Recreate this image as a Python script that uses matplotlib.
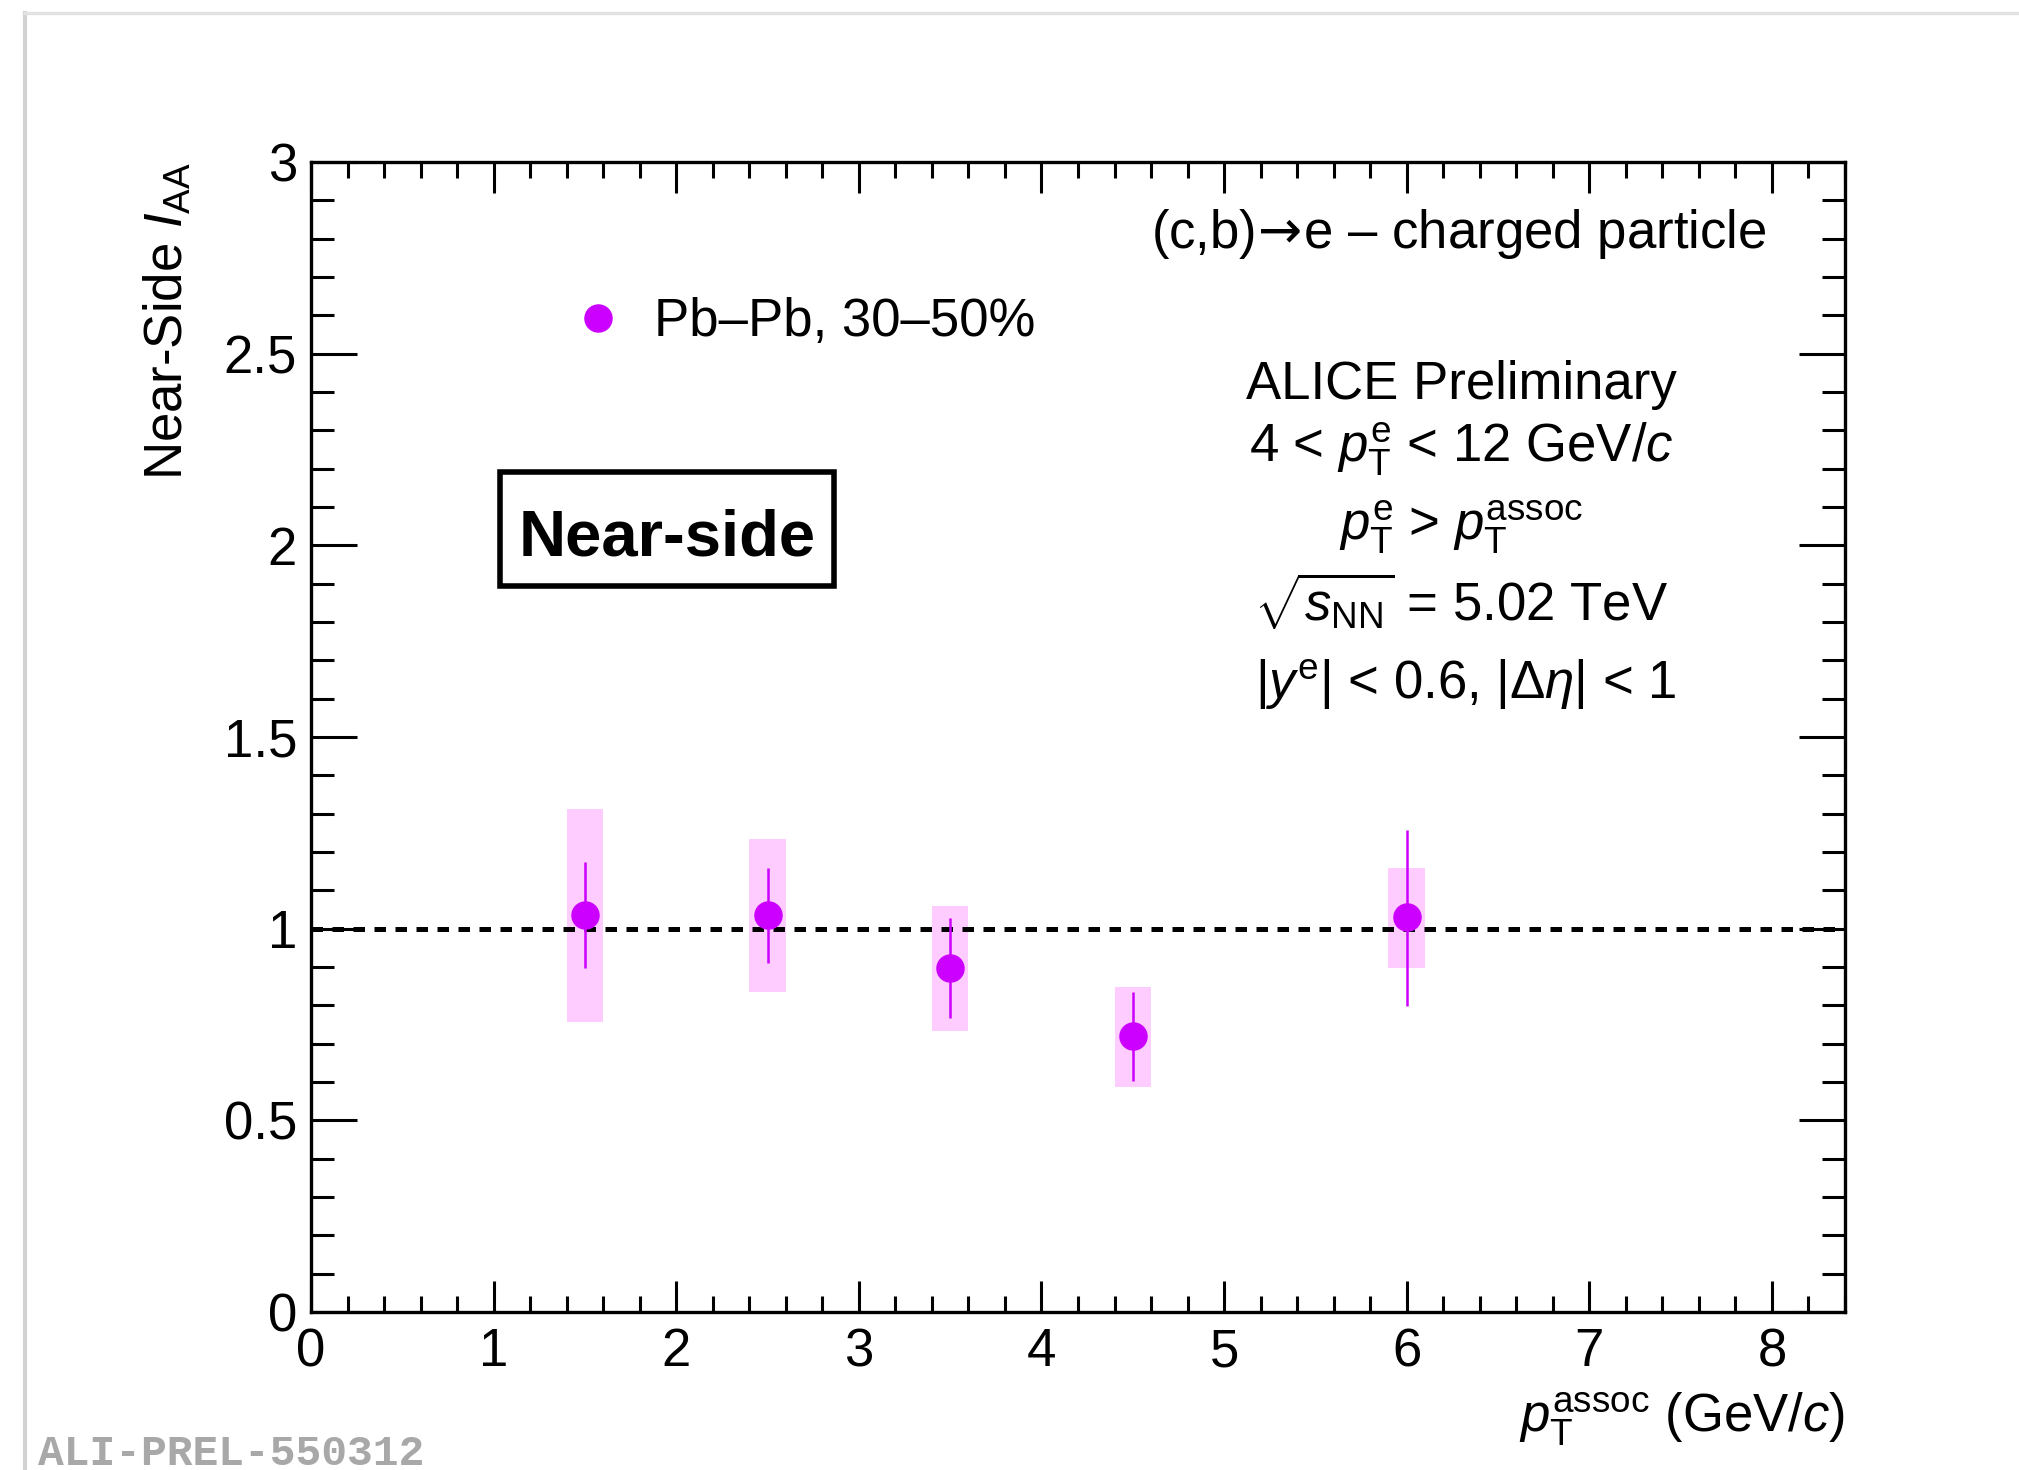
import matplotlib
matplotlib.use("Agg")
import matplotlib.pyplot as plt
from matplotlib.ticker import MultipleLocator, FuncFormatter
from matplotlib.patches import Rectangle
from matplotlib.lines import Line2D
import numpy as np

# ---- data: near-side I_AA vs associated-particle pT, Pb-Pb 30-50% ----
pt_assoc = np.array([1.5, 2.5, 3.5, 4.5, 6.0])
iaa = np.array([1.036, 1.036, 0.898, 0.720, 1.030])
stat_low = np.array([0.897, 0.910, 0.766, 0.603, 0.799])
stat_high = np.array([1.175, 1.158, 1.028, 0.835, 1.258])
syst_low = np.array([0.757, 0.835, 0.734, 0.588, 0.897])
syst_high = np.array([1.312, 1.234, 1.059, 0.848, 1.159])
syst_box_width = 0.2

x_ticks = [0, 1, 2, 3, 4, 5, 6, 7, 8]
y_ticks = [0, 0.5, 1, 1.5, 2, 2.5, 3]

# ---- style ----
plt.rcParams["font.family"] = ["Liberation Sans", "DejaVu Sans"]
plt.rcParams["mathtext.fontset"] = "custom"
plt.rcParams["mathtext.rm"] = "Liberation Sans"
plt.rcParams["mathtext.it"] = "Liberation Sans:italic"
plt.rcParams["mathtext.bf"] = "Liberation Sans:bold"
plt.rcParams["mathtext.sf"] = "DejaVu Sans"

W, H = 2019, 1470
FS = 38
marker_color = "#CC00FF"
box_color = "#FFCCFF"

fig = plt.figure(figsize=(W / 100, H / 100), dpi=100)
fig.patch.set_facecolor("white")


def fx(px):
    return px / W


def fy(py):
    return 1 - py / H


# page edge shading
fig.add_artist(Line2D([fx(25), fx(25)], [fy(13), 0], color="#D2D2D2", lw=3))
fig.add_artist(Line2D([fx(25), 1], [fy(13), fy(13)], color="#E2E2E2", lw=2.5))

ax_l, ax_r, ax_t, ax_b = 311, 1845, 162, 1312
ax = fig.add_axes([fx(ax_l), fy(ax_b), (ax_r - ax_l) / W, (ax_b - ax_t) / H])

# systematic uncertainty boxes
ax.bar(pt_assoc, syst_high - syst_low, bottom=syst_low, width=syst_box_width,
       color=box_color, edgecolor="none", zorder=1)

# reference line at unity
ax.axhline(1.0, color="black", lw=3.6, ls=(0, (2.3, 1.9)), zorder=2)

# statistical error bars and points
ax.errorbar(pt_assoc, iaa, yerr=[iaa - stat_low, stat_high - iaa], fmt="none",
            ecolor=marker_color, elinewidth=1.8, capsize=0, zorder=3)
ax.plot(pt_assoc, iaa, "o", ms=19.5, color=marker_color, mec=marker_color,
        zorder=4, label="Pb\u2013Pb, 30\u201350%")

ax.set_xlim(0, 8.4)
ax.set_ylim(0, 3)
ax.set_xticks(x_ticks)
ax.set_yticks(y_ticks)
ax.xaxis.set_minor_locator(MultipleLocator(0.2))
ax.yaxis.set_minor_locator(MultipleLocator(0.1))
ax.yaxis.set_major_formatter(FuncFormatter(lambda v, p: "%g" % v))
ax.xaxis.set_major_formatter(FuncFormatter(lambda v, p: "%g" % v))

for s in ax.spines.values():
    s.set_linewidth(2.4)

ax.tick_params(which="both", direction="in", top=True, right=True, width=2.2,
               labelsize=FS)
ax.tick_params(axis="x", which="major", length=22, pad=11)
ax.tick_params(axis="x", which="minor", length=11.5)
ax.tick_params(axis="y", which="major", length=33, pad=10)
ax.tick_params(axis="y", which="minor", length=16.5)

# axis titles
ax.text((168 - ax_l) / (ax_r - ax_l), 1.0, r"Near-Side $I_{\rm AA}$",
        rotation=90, ha="center", va="top", fontsize=FS, transform=ax.transAxes)
fig.text(fx(1845), fy(1432), r"$p_{\rm T}^{\rm assoc}$ (GeV/$c$)",
         ha="right", va="baseline", fontsize=FS)

# legend
ax.legend(loc="center left", bbox_to_anchor=(fx(572), fy(322)),
          bbox_transform=fig.transFigure, frameon=False, fontsize=FS,
          handlelength=1.0, handletextpad=0.55, borderpad=0, borderaxespad=0,
          numpoints=1)

# annotations
fig.text(fx(1767), fy(248),
         r"(c,b)$\!\mathsf{\rightarrow}\!$e" + " \u2013 charged particle",
         ha="right", va="baseline", fontsize=FS)
cx = 1461
fig.text(fx(cx), fy(399), "ALICE Preliminary", ha="center", va="baseline", fontsize=FS)
fig.text(fx(cx), fy(462), r"4 < $p_{\rm T}^{\rm e}$ < 12 GeV/$c$",
         ha="center", va="baseline", fontsize=FS)
fig.text(fx(cx), fy(540), r"$p_{\rm T}^{\rm e}$ > $p_{\rm T}^{\rm assoc}$",
         ha="center", va="baseline", fontsize=FS)
fig.text(fx(cx), fy(622), r"$\sqrt{s_{\rm NN}}$ = 5.02 TeV",
         ha="center", va="baseline", fontsize=FS)
fig.text(fx(1466), fy(699), r"$|y^{\rm e}|$ < 0.6, $|\Delta\eta|$ < 1",
         ha="center", va="baseline", fontsize=FS)

# boxed label
fig.add_artist(Rectangle((fx(500), fy(586)), fx(834) - fx(500), fy(472) - fy(586),
                         fill=False, edgecolor="black", lw=4,
                         transform=fig.transFigure))
fig.text(fx(667), fy(555), "Near-side", ha="center", va="baseline",
         fontsize=47, fontweight="bold")

# figure identifier
fig.text(fx(38), fy(1465), "ALI-PREL-550312", ha="left", va="baseline",
         fontsize=31, family="Liberation Mono", fontweight="bold", color="#A8A8A8")

fig.savefig("out.png", dpi=100)
